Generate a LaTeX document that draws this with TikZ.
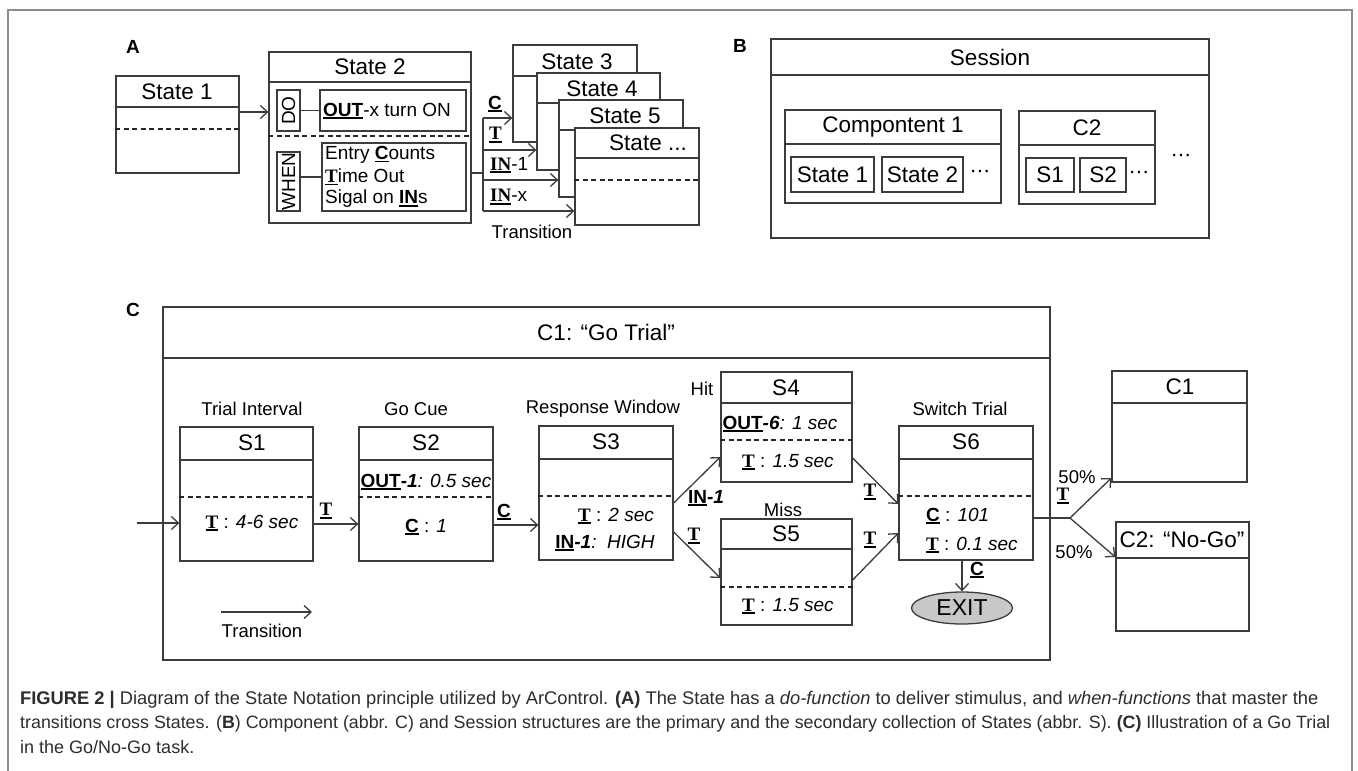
\documentclass[tikz,border=0pt]{standalone}
\usepackage{fontspec}
\setmainfont{Liberation Sans}
\newfontfamily\serifT{Liberation Serif}
\usetikzlibrary{arrows.meta,fit,shapes.geometric}
\definecolor{lc}{RGB}{60,60,60}
\definecolor{fc}{RGB}{140,140,140}
\definecolor{exitc}{RGB}{200,200,200}
\definecolor{capc}{RGB}{45,45,45}
\newsavebox\ulbox
\newcommand\myul[1]{\sbox\ulbox{#1}\rlap{\rule[-2.6pt]{\wd\ulbox}{1.5pt}}\usebox\ulbox}
\newcommand\ulC{\myul{\bfseries C}}
\newcommand\ulT{\myul{\serifT\bfseries T}}
\newcommand\ulIN{\myul{\bfseries IN}}
\newcommand\ulINs{\myul{\serifT\bfseries IN}}
\newcommand\ulOUT{\myul{\bfseries OUT}}
\newcommand\mydots{·\kern-0.5pt·\kern-0.5pt·}
\begin{document}
\begin{tikzpicture}[x=1pt,y=-1pt,
  box/.style={draw=lc, line width=1.3pt, fill=white, inner sep=0pt},
  ln/.style={draw=lc, line width=1.3pt},
  dsh/.style={draw=black!85, line width=2pt, dash pattern=on 5pt off 3.5pt},
  arr/.style={draw=lc, line width=1.3pt, -{Straight Barb[length=7pt,width=13pt,line width=1.3pt]}},
  ttl/.style={inner sep=0pt, font=\fontsize{22.5}{26}\selectfont},
  dots/.style={inner sep=0pt, font=\fontsize{22}{26}\selectfont},
  lab/.style={inner sep=0pt, font=\fontsize{18.5}{22}\selectfont},
  inl/.style={inner sep=0pt, font=\fontsize{19}{22}\selectfont},
  pan/.style={inner sep=0pt, font=\bfseries\fontsize{19}{22}\selectfont},
  captxt/.style={inner sep=0pt, anchor=west, text=capc, font=\fontsize{18}{22}\selectfont}]
\useasboundingbox (0,0) rectangle (1358,771);
\fill[white] (0,0) rectangle (1358,771);
\draw[fc, line width=1.8pt] (8,10) rectangle (1352,790);

% ---------------- Panel A
\node[pan] (la) at (133,47) {A};
\node[box, fit={(116,76)(239,173)}] (a1) {};
\draw[ln] (a1.west |- 0,107) -- (a1.east |- 0,107);
\draw[dsh] (a1.west |- 0,129) -- (a1.east |- 0,129);
\node[ttl] (a1t) at (177,92) {State 1};

\node[box, fit={(269,52)(471,223)}] (a2) {};
\draw[ln] (a2.west |- 0,82) -- (a2.east |- 0,82);
\draw[dsh] (a2.west |- 0,136) -- (a2.east |- 0,136);
\node[ttl] (a2t) at (370,67) {State 2};
\node[box, fit={(277,90)(300,131)}] (do) {};
\node[inl, rotate=90] (dot) at (do) {DO};
\node[box, fit={(320,90)(466,131)}] (out) {};
\node[inl, anchor=west] (outt) at (323,111) {\ulOUT-x turn ON};
\draw[ln] (do.east) -- (out.west);
\node[box, fit={(277,152)(300,211)}] (when) {};
\node[inl, rotate=90] (whent) at (when) {WHEN};
\node[box, fit={(322,143)(466,211)}] (cond) {};
\draw[ln] (when.east |- cond.west) -- (cond.west);
\node[inl, anchor=west] (c1t) at (325,155) {Entry \ulC ounts};
\node[inl, anchor=west] (c2t) at (325,177) {\ulT ime Out};
\node[inl, anchor=west] (c3t) at (325,199) {Sigal on \ulIN s};

\draw[arr] (a1.east |- 0,112) -- (a2.west |- 0,112);

\node[box, fit={(513,45)(637,142)}] (a3) {};
\draw[ln] (a3.west |- 0,76) -- (a3.east |- 0,76);
\node[ttl] (a3t) at (577,62) {State 3};
\node[box, fit={(537,73)(660,170)}] (a4) {};
\draw[ln] (a4.west |- 0,103) -- (a4.east |- 0,103);
\node[ttl] (a4t) at (602,89) {State 4};
\node[box, fit={(559,100)(683,197)}] (a5) {};
\draw[ln] (a5.west |- 0,130) -- (a5.east |- 0,130);
\node[ttl] (a5t) at (625,116) {State 5};
\node[box, fit={(575,128)(699,225)}] (a6) {};
\draw[ln] (a6.west |- 0,158) -- (a6.east |- 0,158);
\draw[dsh] (a6.west |- 0,180) -- (a6.east |- 0,180);
\node[ttl] (a6t) at (648,143) {State ...};

\coordinate (tj) at (483,173);
\coordinate (tc) at (483,118);
\coordinate (tt) at (483,150);
\coordinate (ti) at (483,180);
\coordinate (tx) at (483,211);
\draw[ln] (a2.east |- tj) -- (tj);
\draw[ln] (tc) -- (tx);
\draw[arr] (tc) -- (a3.west |- tc);
\draw[arr] (tt) -- (a4.west |- tt);
\draw[arr] (ti) -- (a5.west |- ti);
\draw[arr] (tx) -- (a6.west |- tx);
\node[inl, anchor=west] (lc) at (488,104) {\ulC};
\node[inl, anchor=west] (lt) at (489,135) {\ulT};
\node[inl, anchor=west] (li1) at (490,165) {\ulINs-1};
\node[inl, anchor=west] (lix) at (490,197) {\ulINs-x};
\node[lab] (ltr) at (532,232) {Transition};

% ---------------- Panel B
\node[pan] (lb) at (740,46) {B};
\node[box, fit={(771,39)(1209,238)}] (ses) {};
\draw[ln] (ses.west |- 0,75) -- (ses.east |- 0,75);
\node[ttl] (sest) at (990,57) {Session};
\node[box, fit={(785,110)(1001,203)}] (cp1) {};
\draw[ln] (cp1.west |- 0,144) -- (cp1.east |- 0,144);
\node[ttl] (cp1t) at (893,127) {Compontent 1};
\node[box, fit={(791,157)(874,192)}] (bs1) {};
\node[ttl] (bs1t) at (bs1) {State 1};
\node[box, fit={(882,157)(963,192)}] (bs2) {};
\node[ttl] (bs2t) at (bs2) {State 2};
\node[dots] (bd1) at (980,174) {\mydots};
\node[box, fit={(1019,111)(1155,204)}] (cp2) {};
\draw[ln] (cp2.west |- 0,145) -- (cp2.east |- 0,145);
\node[ttl] (cp2t) at (1087,128) {C2};
\node[box, fit={(1026,158)(1074,192)}] (bs3) {};
\node[ttl] (bs3t) at (bs3) {S1};
\node[box, fit={(1080,158)(1126,192)}] (bs4) {};
\node[ttl] (bs4t) at (bs4) {S2};
\node[dots] (bd2) at (1139,175) {\mydots};
\node[dots] (bd3) at (1181,158) {\mydots};

% ---------------- Panel C
\node[pan] (lcc) at (133,310) {C};
\node[box, fit={(163,307)(1050,660)}] (cc) {};
\draw[ln] (cc.west |- 0,358) -- (cc.east |- 0,358);
\node[ttl] (cct) at (606,332) {C1: “Go Trial”};

% S1
\node[box, fit={(180,427)(313,561)}] (s1) {};
\draw[ln] (s1.west |- 0,460) -- (s1.east |- 0,460);
\draw[dsh] (s1.west |- 0,497) -- (s1.east |- 0,497);
\node[ttl] (s1t) at (252,443) {S1};
\node[lab] (s1l) at (252,409) {Trial Interval};
\node[inl] (s1a) at (252,523) {\ulT\ : \textit{4-6 sec}};
% S2
\node[box, fit={(359,427)(493,561)}] (s2) {};
\draw[ln] (s2.west |- 0,460) -- (s2.east |- 0,460);
\draw[dsh] (s2.west |- 0,497) -- (s2.east |- 0,497);
\node[ttl] (s2t) at (426,443) {S2};
\node[lab] (s2l) at (416,409) {Go Cue};
\node[inl] (s2a) at (426,482) {\ulOUT\textbf{\textit{-1}}\textit{: 0.5 sec}};
\node[inl] (s2b) at (426,527) {\ulC\ : \textit{1}};
% S3
\node[box, fit={(539,426)(673,560)}] (s3) {};
\draw[ln] (s3.west |- 0,459) -- (s3.east |- 0,459);
\draw[dsh] (s3.west |- 0,496) -- (s3.east |- 0,496);
\node[ttl] (s3t) at (606,442) {S3};
\node[lab] (s3l) at (603,409) {Response Window};
\node[inl] (s3a) at (616,516) {\ulT\ : \textit{2 sec}};
\node[inl] (s3b) at (605,543) {\ulIN\textbf{\textit{-1}}\textit{:\ \ HIGH}};
% S4
\node[box, fit={(721,372)(852,482)}] (s4) {};
\draw[ln] (s4.west |- 0,403) -- (s4.east |- 0,403);
\draw[dsh] (s4.west |- 0,440) -- (s4.east |- 0,440);
\node[ttl] (s4t) at (786,388) {S4};
\node[lab] (s4l) at (702,389) {Hit};
\node[inl] (s4a) at (780,424) {\ulOUT\textbf{\textit{-6}}\textit{: 1 sec}};
\node[inl] (s4b) at (788,462) {\ulT\ : \textit{1.5 sec}};
% S5
\node[box, fit={(721,519)(852,625)}] (s5) {};
\draw[ln] (s5.west |- 0,549) -- (s5.east |- 0,549);
\draw[dsh] (s5.west |- 0,587) -- (s5.east |- 0,587);
\node[ttl] (s5t) at (786,534) {S5};
\node[lab] (s5l) at (783,510) {Miss};
\node[inl] (s5b) at (788,606) {\ulT\ : \textit{1.5 sec}};
% S6
\node[box, fit={(899,426)(1033,560)}] (s6) {};
\draw[ln] (s6.west |- 0,459) -- (s6.east |- 0,459);
\draw[dsh] (s6.west |- 0,496) -- (s6.east |- 0,496);
\node[ttl] (s6t) at (966,442) {S6};
\node[lab] (s6l) at (960,409) {Switch Trial};
\node[inl, anchor=west] (s6a) at (926,516) {\ulC\ : \textit{101}};
\node[inl, anchor=west] (s6b) at (926,545) {\ulT\ : \textit{0.1 sec}};
% EXIT
\node[ellipse, draw=lc, line width=1.3pt, fill=exitc, minimum width=101pt, minimum height=32pt, inner sep=0pt, font=\fontsize{23}{26}\selectfont] (exit) at (962,608) {EXIT};
% right components
\node[box, fit={(1112,371)(1247,482)}] (rc1) {};
\draw[ln] (rc1.west |- 0,403) -- (rc1.east |- 0,403);
\node[ttl] (rc1t) at (1180,387) {C1};
\node[box, fit={(1116,522)(1249,631)}] (rc2) {};
\draw[ln] (rc2.west |- 0,558) -- (rc2.east |- 0,558);
\node[ttl] (rc2t) at (1182,540) {C2: “No-Go”};

% connectors C
\coordinate (cin) at (137,523);
\draw[arr] (cin) -- (s1.west |- cin);
\draw[arr] (s1.east |- 0,524) -- (s2.west |- 0,524);
\node[inl] (l12) at (326,511) {\ulT};
\draw[arr] (s2.east |- 0,525) -- (s3.west |- 0,525);
\node[inl] (l23) at (504,512) {\ulC};
\draw[arr] (s3.east |- 0,503) -- (s4.west |- 0,457);
\node[inl] (l34) at (706,498) {\ulIN\textbf{\textit{-1}}};
\draw[arr] (s3.east |- 0,532) -- (s5.west |- 0,578);
\node[inl] (l35) at (694,536) {\ulT};
\draw[arr] (s4.east |- 0,458) -- (s6.west |- 0,504);
\node[inl] (l46) at (870,492) {\ulT};
\draw[arr] (s5.east |- 0,580) -- (s6.west |- 0,533);
\node[inl] (l56) at (870,540) {\ulT};
\draw[arr] (exit.north |- s6.south) -- (exit.north);
\node[inl] (l6e) at (977,570) {\ulC};
\coordinate (sp) at (1070,518);
\draw[ln] (s6.east |- sp) -- (sp);
\draw[arr] (sp) -- (rc1.west |- 0,478);
\draw[arr] (sp) -- (rc2.west |- 0,557);
\node[inl] (lsp) at (1063,496) {\ulT};
\node[lab] (p1) at (1077,477) {50\%};
\node[lab] (p2) at (1074,552) {50\%};

% legend
\coordinate (lg1) at (221,612);
\coordinate (lg2) at (312,612);
\draw[arr] (lg1) -- (lg2);
\node[lab] (lgt) at (262,631) {Transition};

% caption
\node[captxt] (cap1) at (20,700) {\resizebox{1298pt}{!}{\textbf{FIGURE 2 |} Diagram of the State Notation principle utilized by ArControl. \textbf{(A)} The State has a \textit{do-function} to deliver stimulus, and \textit{when-functions} that master the}};
\node[captxt] (cap2) at (20,724) {\resizebox{1310pt}{!}{transitions cross States. (\textbf{B}) Component (abbr. C) and Session structures are the primary and the secondary collection of States (abbr. S). \textbf{(C)} Illustration of a Go Trial}};
\node[captxt] (cap3) at (20,747) {in the Go/No-Go task.};
\end{tikzpicture}
\end{document}
